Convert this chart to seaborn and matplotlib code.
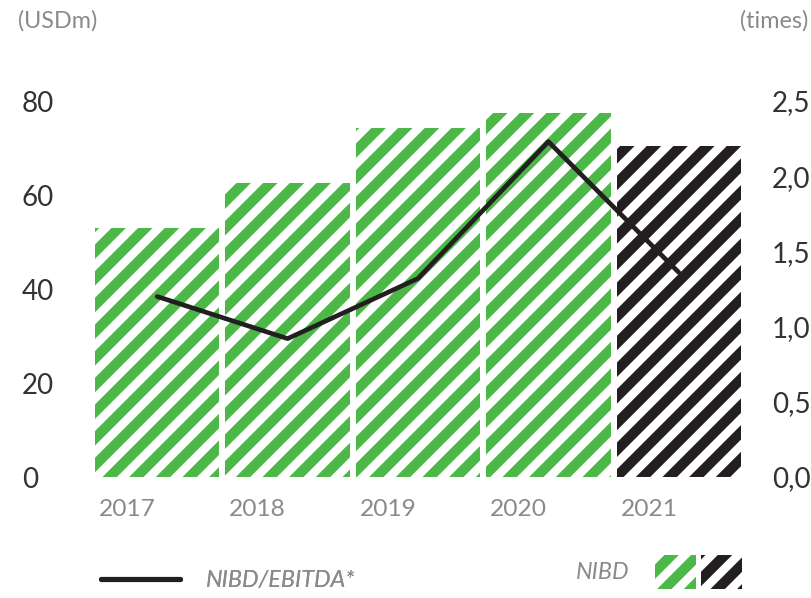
import numpy as np
import pandas as pd
import matplotlib
matplotlib.use("Agg")
import matplotlib.pyplot as plt
from matplotlib.patches import Patch
from matplotlib.lines import Line2D
from matplotlib.legend_handler import HandlerTuple
import seaborn as sns

# ---- data -------------------------------------------------------------
years = ["2017", "2018", "2019", "2020", "2021"]
nibd = [53.0, 62.6, 74.3, 77.4, 70.4]            # USDm
nibd_ebitda = [1.20, 0.92, 1.32, 2.23, 1.36]     # times
left_ticks = [0, 20, 40, 60, 80]
right_ticks = [0.0, 0.5, 1.0, 1.5, 2.0, 2.5]
right_tick_labels = ["0,0", "0,5", "1,0", "1,5", "2,0", "2,5"]

GREEN = "#4cb848"
BLACK = "#231f20"
DARK = "#333333"
GREY = "#8a8a8a"
HATCH = "//"

sns.set_theme(style="white")
plt.rcParams["font.family"] = ["Lato", "DejaVu Sans"]
plt.rcParams["hatch.linewidth"] = 4.6

DPI = 160
fig = plt.figure(figsize=(811 / DPI, 598 / DPI), dpi=DPI)
ax = fig.add_axes([95 / 811, 121 / 598, 646 / 811, 376 / 598])

df = pd.DataFrame({"year": years, "nibd": nibd, "ratio": nibd_ebitda})
sns.barplot(data=df, x="year", y="nibd", ax=ax, width=0.954,
            color="white", saturation=1, linewidth=0)

for i, bar in enumerate(ax.patches):
    col = BLACK if i == len(years) - 1 else GREEN
    bar.set_facecolor("white")
    bar.set_edgecolor(col)
    bar.set_linewidth(0)
    bar.set_hatch(HATCH)

ax.set_xlim(-0.477, len(years) - 1 + 0.477)
ax.set_ylim(0, 80)
ax.set_xlabel("")
ax.set_ylabel("")
ax.set_yticks(left_ticks, labels=[str(t) for t in left_ticks])
ax.set_xticks(np.arange(len(years)) - 0.447, labels=years)
for lab in ax.get_xticklabels():
    lab.set_ha("left")
ax.tick_params(axis="x", length=0, pad=10, labelsize=11, labelcolor=GREY)
ax.tick_params(axis="y", length=0, pad=33, labelsize=12.5, labelcolor=DARK)
for lab in ax.get_yticklabels():
    lab.set_ha("left")
for s in ax.spines.values():
    s.set_visible(False)

ax2 = ax.twinx()
sns.lineplot(x=np.arange(len(years)), y=nibd_ebitda, ax=ax2,
             color=BLACK, linewidth=2.1, solid_capstyle="round")
ax2.set_ylim(0, 2.5)
ax2.set_yticks(right_ticks, labels=right_tick_labels)
ax2.tick_params(axis="y", length=0, pad=14, labelsize=12.5, labelcolor=DARK)
for s in ax2.spines.values():
    s.set_visible(False)
ax.set_xlim(-0.477, len(years) - 1 + 0.477)

# unit captions
fig.text(18 / 811, 1 - 21 / 598, "(USDm)", fontsize=10.5, color=GREY,
         va="center", ha="left")
fig.text(808 / 811, 1 - 21 / 598, "(times)", fontsize=10.5, color=GREY,
         va="center", ha="right")

# legends
line_handle = Line2D([], [], color=BLACK, linewidth=2.3, solid_capstyle="round")
leg1 = fig.legend([line_handle], ["NIBD/EBITDA*"], loc="center left",
                  bbox_to_anchor=(80 / 811, 1 - 581 / 598), frameon=False,
                  handlelength=3.4, handletextpad=1.1, fontsize=10.5)
for t in leg1.get_texts():
    t.set_color(GREY)
    t.set_style("italic")

g_patch = Patch(facecolor="white", edgecolor=GREEN, hatch=HATCH, linewidth=0)
k_patch = Patch(facecolor="white", edgecolor=BLACK, hatch=HATCH, linewidth=0)
leg2 = fig.legend([(g_patch, k_patch)], ["NIBD"], loc="center left",
                  bbox_to_anchor=(555 / 811, 1 - 572 / 598), frameon=False,
                  markerfirst=False, handlelength=3.7, handleheight=1.9,
                  handletextpad=1.1, fontsize=10.5,
                  handler_map={tuple: HandlerTuple(ndivide=None, pad=0.2)})
for t in leg2.get_texts():
    t.set_color(GREY)
    t.set_style("italic")
fig.add_artist(leg1)

fig.savefig("out.png", dpi=DPI)
